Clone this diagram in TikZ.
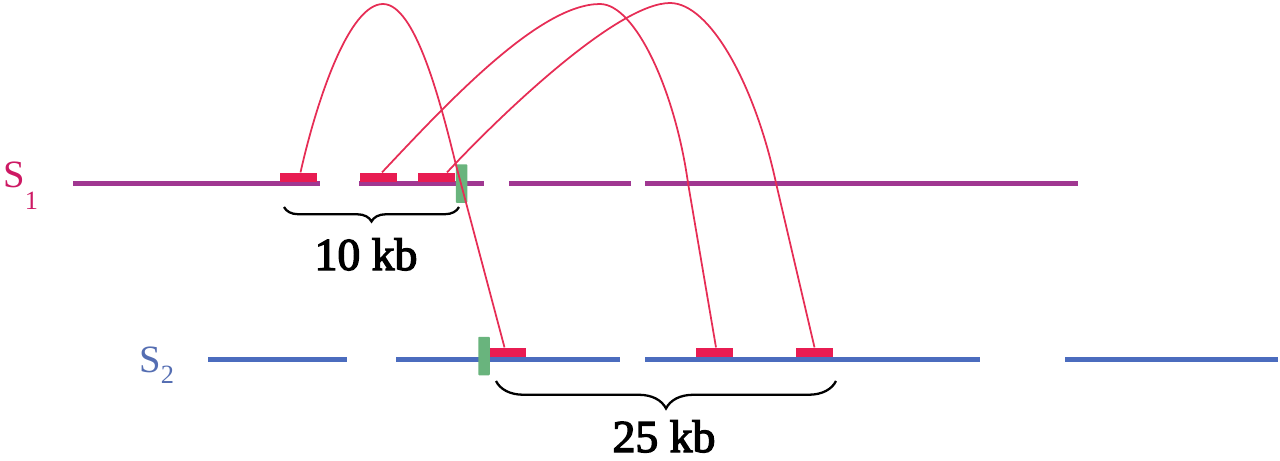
\documentclass[tikz,border=0pt]{standalone}
\usepackage{fontspec}
\setmainfont{Liberation Serif}
\newfontfamily\heavyserif[FakeBold=3]{Liberation Serif}
\usetikzlibrary{decorations.pathreplacing,calc}
\definecolor{soneline}{RGB}{160,55,145}
\definecolor{stwoline}{RGB}{75,108,190}
\definecolor{blockred}{RGB}{232,28,82}
\definecolor{arcred}{RGB}{230,45,85}
\definecolor{markgreen}{RGB}{105,180,125}
\definecolor{sonetext}{RGB}{205,25,100}
\definecolor{stwotext}{RGB}{85,110,178}
\tikzset{
  chromone/.style={draw=soneline,line width=0.1cm},
  chromtwo/.style={draw=stwoline,line width=0.1cm},
  redblk/.style={fill=blockred,draw=none,minimum width=0.74cm,minimum height=0.19cm,inner sep=0pt},
  greenbar/.style={fill=markgreen,draw=none,rounded corners=0.5pt,minimum width=0.23cm,minimum height=0.77cm,inner sep=0pt},
  linkarc/.style={draw=arcred,line width=1pt},
  bracestyle/.style={draw=black,line width=1.3pt,decorate,decoration={brace,mirror,amplitude=#1}},
  kblabel/.style={font=\heavyserif\fontsize{26pt}{26pt}\selectfont,text=black,inner sep=0pt,anchor=base}
}
\begin{document}
\begin{tikzpicture}[x=0.02cm,y=-0.02cm]
\useasboundingbox (0,0) rectangle (1280,460);

% chromosome S1
\draw[chromone] (73,183) -- (320,183);
\draw[chromone] (359,183) -- (484,183);
\draw[chromone] (509,183) -- (631,183);
\draw[chromone] (645,183) -- (1078,183);
% chromosome S2
\draw[chromtwo] (208,359) -- (347,359);
\draw[chromtwo] (396,359) -- (620,359);
\draw[chromtwo] (645,359) -- (980,359);
\draw[chromtwo] (1065,359) -- (1278,359);

% labels
\node[anchor=base west,inner sep=0pt,text=sonetext] (s1) at (3,187)
  {\fontsize{22pt}{22pt}\selectfont S\raisebox{-13pt}{\fontsize{15pt}{15pt}\selectfont 1}};
\node[anchor=base west,inner sep=0pt,text=stwotext] (s2) at (139,372)
  {\fontsize{22pt}{22pt}\selectfont S\raisebox{-6.5pt}{\fontsize{15pt}{15pt}\selectfont 2}};

% red blocks
\node[redblk] (a1) at (298.5,177.5) {};
\node[redblk] (a2) at (378,177.5) {};
\node[redblk] (a3) at (436,177.5) {};
\node[redblk] (b1) at (507.5,352.5) {};
\node[redblk] (b2) at (714,352.5) {};
\node[redblk] (b3) at (814.5,352.5) {};

% green markers
\node[greenbar] (g1) at (461.5,183.5) {};
\node[greenbar] (g2) at (484,356) {};

% link arcs
\draw[linkarc] ($(a1.north)+(2,0)$) .. controls (318,95) and (350,4) .. (383,4)
  .. controls (415,4) and (440,100) .. (456,165) -- ($(b1.north)+(-3,0)$);
\draw[linkarc] ($(a2.north)+(4,0)$) .. controls (450,100) and (540,4) .. (600,4)
  .. controls (635,4) and (675,90) .. (688,183) -- ($(b2.north)+(2,0)$);
\draw[linkarc] ($(a3.north)+(11,0)$) .. controls (510,105) and (620,3) .. (670,3)
  .. controls (710,3) and (755,85) .. (776,183) -- (b3.north);

% braces
\coordinate (br1l) at (284,207);
\coordinate (br1r) at (459,207);
\draw[bracestyle=0.29cm] (br1l) -- (br1r);
\node[kblabel] (kb10) at (366,270) {10 kb};
\coordinate (br2l) at (496,381);
\coordinate (br2r) at (836,381);
\draw[bracestyle=0.55cm] (br2l) -- (br2r);
\node[kblabel] (kb25) at (664,452) {25 kb};
\end{tikzpicture}
\end{document}
